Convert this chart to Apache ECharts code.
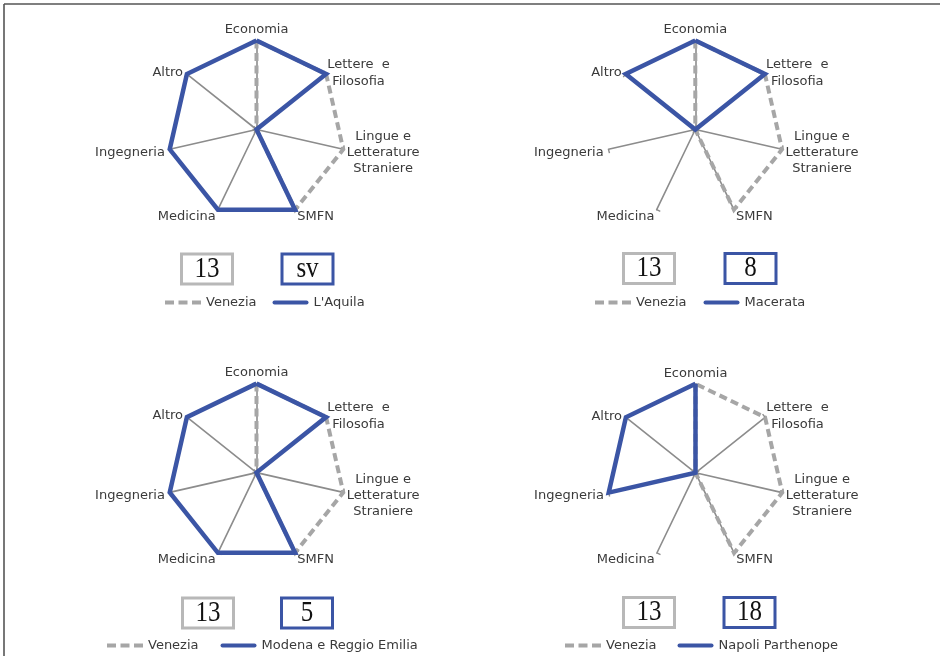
<!DOCTYPE html>
<html>
<head>
<meta charset="utf-8">
<title>Profili disciplinari</title>
<script src="https://cdn.jsdelivr.net/npm/echarts@6/dist/echarts.min.js"></script>
<style>
  html, body { margin: 0; padding: 0; background: #ffffff; }
  #chart { width: 940px; height: 656px; }
</style>
</head>
<body>
<div id="chart"></div>
<script>
// Radar axes, listed in the order ECharts lays them out (counter-clockwise from the top)
const categories = [
  'Economia',
  'Altro',
  'Ingegneria',
  'Medicina',
  'SMFN',
  'Lingue e\nLetterature\nStraniere',
  'Lettere  e\nFilosofia'
];

// Presence (1) / absence (0) of each area
const venezia   = [1, 0, 0, 0, 1, 1, 1];
const laquila   = [1, 1, 1, 1, 1, 0, 1];
const macerata  = [1, 1, 0, 0, 0, 0, 1];
const modena    = [1, 1, 1, 1, 1, 0, 1];
const napoli    = [1, 1, 1, 0, 0, 0, 0];

const compareNames  = ["L'Aquila", 'Macerata', 'Modena e Reggio Emilia', 'Napoli Parthenope'];
const compareValues = [laquila, macerata, modena, napoli];

// Counts shown in the boxes under each radar
const veneziaCount = ['13', '13', '13', '13'];
const compareCount = ['sv', '8', '5', '18'];

const GRAY = '#a6a6a6';
const BLUE = '#3b55a5';
const LABEL = '#3a3a3a';
const FONT = '"DejaVu Sans", sans-serif';

// Panel layout
const panels = [
  { cx: 256.5, cy: 129.5, legendLeft: 160, legendTop: 291, gap: 16, boxY: 269,   grayX: 207, blueX: 307.5 },
  { cx: 695.3, cy: 129.5, legendLeft: 590, legendTop: 291, gap: 17, boxY: 268.5, grayX: 649, blueX: 750.5 },
  { cx: 256.5, cy: 472.6, legendLeft: 102, legendTop: 634, gap: 22, boxY: 613,   grayX: 208, blueX: 307 },
  { cx: 695.5, cy: 472.8, legendLeft: 560, legendTop: 634, gap: 21, boxY: 612.5, grayX: 649, blueX: 749.5 }
];

const DASH_ICON = 'path://M0,0h9v4h-9z M13.5,0h9v4h-9z M27,0h9v4h-9z';
const LINE_ICON = 'path://M2,0h32a2,2 0 0 1 0,4h-32a2,2 0 0 1 0,-4z';

function nameFormatter(name) {
  if (name === 'Economia') return '{top|' + name + '}';
  if (name.indexOf('\n') < 0) return name;
  const key = name.split('\n').length > 2 ? 'w3' : 'w2';
  return name.split('\n').map(s => '{' + key + '|' + s + '}').join('\n');
}

const richBase = { color: LABEL, fontFamily: FONT, fontSize: 13 };

const radar = panels.map(p => ({
  center: [p.cx, p.cy],
  radius: 89,
  startAngle: 90,
  splitNumber: 1,
  shape: 'polygon',
  nameGap: 5,
  indicator: categories.map(c => ({ name: c, min: 0, max: 1 })),
  axisName: {
    color: LABEL,
    fontFamily: FONT,
    fontSize: 13,
    lineHeight: 17,
    padding: [4, 0, 0, 0],
    formatter: nameFormatter,
    rich: {
      top: Object.assign({ lineHeight: 11 }, richBase),
      w2: Object.assign({ width: 57, align: 'center', lineHeight: 17.5 }, richBase),
      w3: Object.assign({ width: 70, align: 'center', lineHeight: 16 }, richBase)
    }
  },
  axisLine: { show: true, lineStyle: { color: '#8c8c8c', width: 1.6 } },
  axisTick: { show: true, length: 4, lineStyle: { color: '#8c8c8c', width: 1.4 } },
  splitLine: { show: false },
  splitArea: { show: false }
}));

const series = panels.map((p, i) => ({
  type: 'radar',
  radarIndex: i,
  symbol: 'none',
  silent: true,
  data: [
    {
      name: 'Venezia',
      value: venezia,
      itemStyle: { color: GRAY },
      lineStyle: { color: GRAY, width: 4, type: [8, 4.5], cap: 'butt', join: 'miter' }
    },
    {
      name: compareNames[i],
      value: compareValues[i],
      itemStyle: { color: BLUE },
      lineStyle: { color: BLUE, width: 4.5, type: 'solid', join: 'miter' }
    }
  ]
}));

const legend = panels.map((p, i) => ({
  left: p.legendLeft,
  top: p.legendTop,
  orient: 'horizontal',
  itemWidth: 36,
  itemHeight: 4.5,
  itemGap: p.gap,
  selectedMode: false,
  itemStyle: { borderWidth: 0 },
  textStyle: { color: LABEL, fontFamily: FONT, fontSize: 13 },
  data: [
    { name: 'Venezia', icon: DASH_ICON },
    { name: compareNames[i], icon: LINE_ICON }
  ]
}));

// Count boxes and the frame edges
const graphic = [
  { type: 'line', shape: { x1: 4, y1: 4, x2: 940, y2: 4 }, style: { stroke: '#555555', lineWidth: 1.6 }, silent: true },
  { type: 'line', shape: { x1: 4, y1: 4, x2: 4, y2: 656 }, style: { stroke: '#555555', lineWidth: 1.6 }, silent: true }
];
panels.forEach((p, i) => {
  [[p.grayX, '#b8b8b8', veneziaCount[i]], [p.blueX, BLUE, compareCount[i]]].forEach(([x, col, txt]) => {
    graphic.push({
      type: 'rect',
      shape: { x: x - 25.5, y: p.boxY - 15, width: 51, height: 30 },
      style: { fill: '#ffffff', stroke: col, lineWidth: 3 },
      silent: true
    });
    graphic.push({
      type: 'text',
      x: x,
      y: p.boxY,
      scaleY: 1.2,
      style: {
        text: txt,
        fill: '#111111',
        fontFamily: '"Liberation Serif", "Times New Roman", serif',
        fontSize: 25,
        align: 'center',
        verticalAlign: 'middle'
      },
      silent: true
    });
  });
});

const chart = echarts.init(document.getElementById('chart'), null, { renderer: 'canvas' });
chart.setOption({
  backgroundColor: '#ffffff',
  animation: false,
  radar: radar,
  legend: legend,
  series: series,
  graphic: graphic
});
</script>
</body>
</html>
